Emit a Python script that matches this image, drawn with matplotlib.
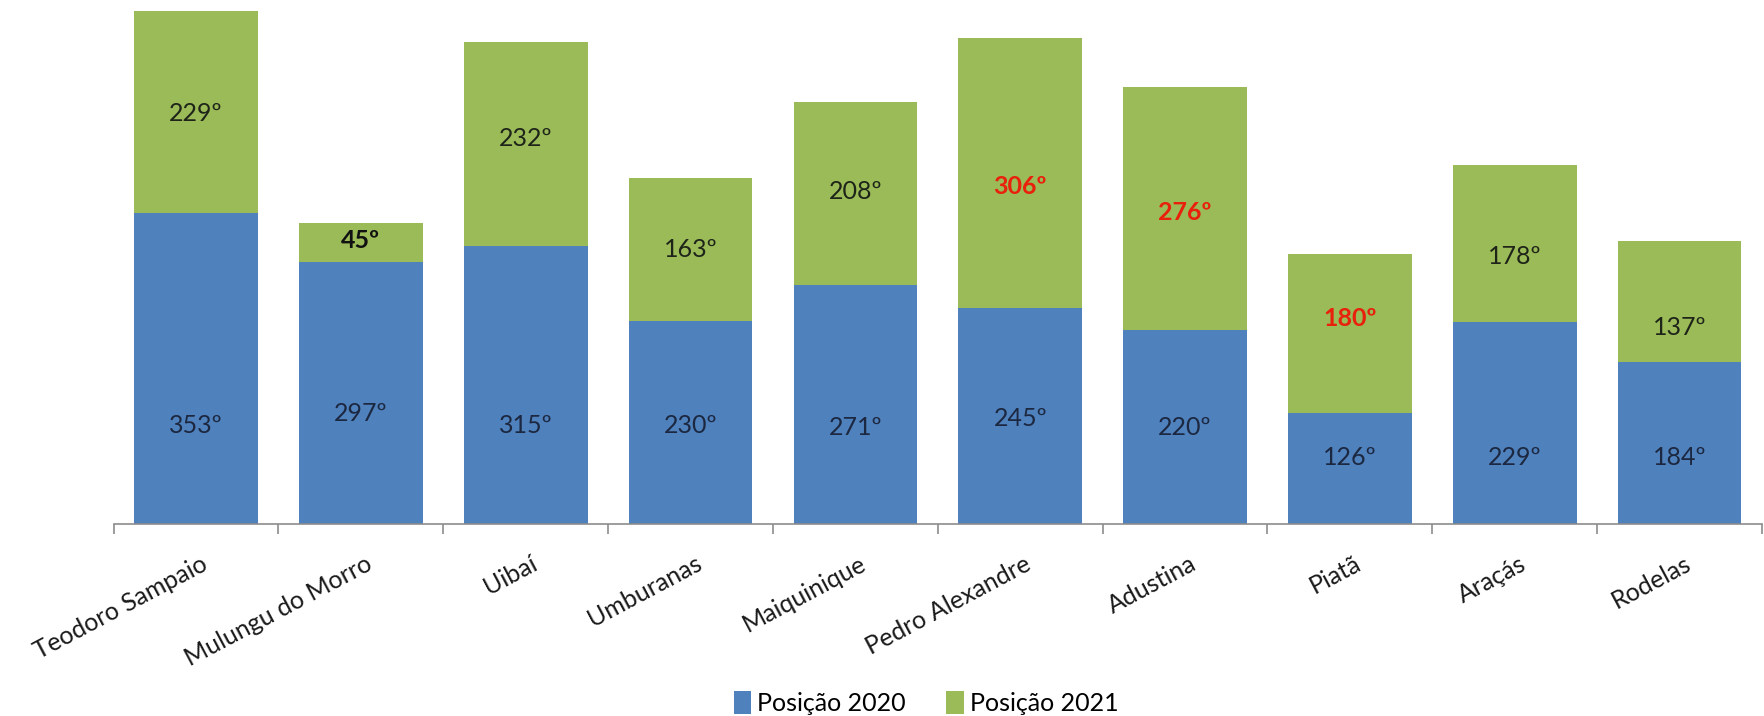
import matplotlib
matplotlib.use("Agg")
import matplotlib.pyplot as plt
import matplotlib.transforms as mtransforms
import numpy as np

categories = ["Teodoro Sampaio", "Mulungu do Morro", "Uibaí", "Umburanas", "Maiquinique",
              "Pedro Alexandre", "Adustina", "Piatã", "Araçás", "Rodelas"]
pos2020 = [353, 297, 315, 230, 271, 245, 220, 126, 229, 184]
pos2021 = [229, 45, 232, 163, 208, 306, 276, 180, 178, 137]
labels2020 = ["353º", "297º", "315º", "230º", "271º", "245º", "220º", "126º", "229º", "184º"]
labels2021 = ["229º", "45º", "232º", "163º", "208º", "306º", "276º", "180º", "178º", "137º"]
# label vertical placement (data units) as in the original, manually positioned
label_y2020 = [112, 125, 112, 112, 109.5, 120, 109.5, 75, 75, 75]
label_y2021 = [466, 321.5, 437.7, 311.3, 377.7, 382.8, 353.5, 233.4, 303.6, 223.2]
style2021 = ["n", "bk", "n", "n", "n", "red", "red", "red", "n", "n"]

plt.rcParams['font.family'] = ['Lato', 'DejaVu Sans']

fig = plt.figure(figsize=(17.64, 7.16), dpi=100)
ax = fig.add_axes([113.6 / 1764, 1 - 524 / 716, (1762 - 113.6) / 1764, 513 / 716])

x = np.arange(len(categories))
blue = "#4F81BD"
green = "#9BBB59"
ax.bar(x, pos2020, width=0.75, color=blue, label="Posição 2020")
ax.bar(x, pos2021, width=0.75, bottom=pos2020, color=green, label="Posição 2021")

for i in range(len(categories)):
    ax.text(x[i], label_y2020[i], labels2020[i], ha="center", va="center",
            fontsize=18, color="#1C2740")
    s = style2021[i]
    if s == "red":
        kw = dict(color="#E8200C", fontweight="bold")
    elif s == "bk":
        kw = dict(color="#111111", fontweight="bold")
    else:
        kw = dict(color="#1E2418")
    ax.text(x[i], label_y2021[i], labels2021[i], ha="center", va="center",
            fontsize=18, **kw)

ax.set_xlim(-0.5, len(categories) - 0.5)
ax.set_ylim(0, 582)
for side in ["top", "right", "left"]:
    ax.spines[side].set_visible(False)
ax.spines["bottom"].set_color("#8c8c8c")
ax.spines["bottom"].set_linewidth(1.2)
ax.set_yticks([])
ax.set_xticks(x)
ax.set_xticklabels(categories, rotation=28, ha="right", rotation_mode="anchor",
                   fontsize=18, color="#1a1a1a")
ax.tick_params(axis="x", which="major", length=0, pad=20)
offset = mtransforms.ScaledTranslation(4 / 100, 0, fig.dpi_scale_trans)
for lab in ax.get_xticklabels():
    lab.set_transform(lab.get_transform() + offset)
ax.set_xticks(np.arange(-0.5, len(categories)), minor=True)
ax.tick_params(axis="x", which="minor", length=7, color="#8c8c8c", width=1.2)

fig.legend(loc="lower center", bbox_to_anchor=(0.525, -0.03), ncol=2, frameon=False,
           fontsize=18, handlelength=0.7, handleheight=1.0, handletextpad=0.25,
           columnspacing=1.6)

fig.savefig("out.png", dpi=100)
